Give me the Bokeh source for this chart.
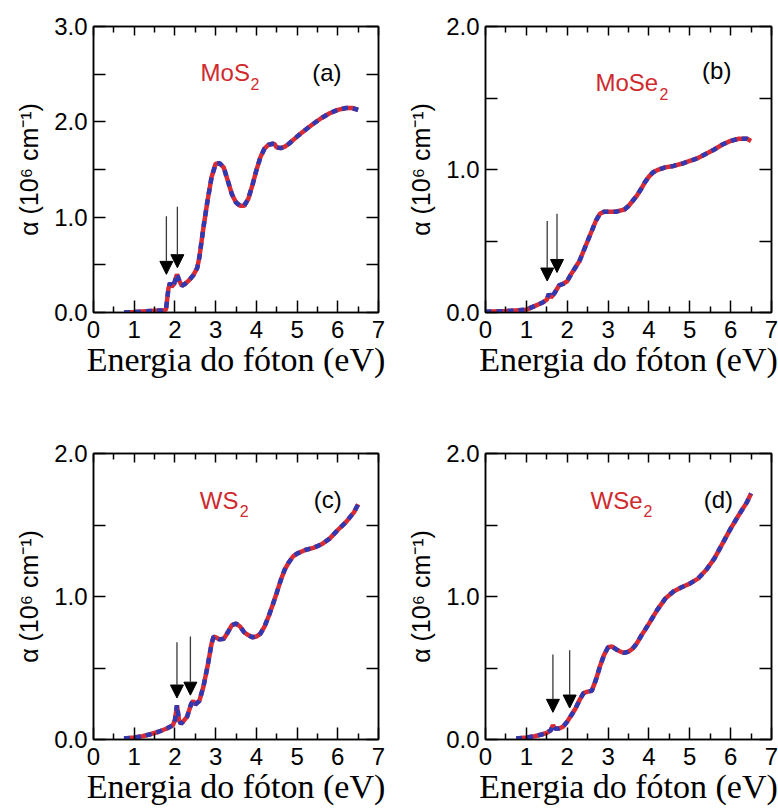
from bokeh.plotting import figure
from bokeh.layouts import gridplot
from bokeh.models import (Range1d, FixedTicker, LinearAxis, NumeralTickFormatter,
                          Label, Arrow, NormalHead)
from bokeh.embed import file_html
from bokeh.resources import INLINE

# ---------------- data ----------------
mos2_energy = [0.75, 1.0, 1.2, 1.4, 1.6, 1.7, 1.78, 1.84, 1.88, 1.92, 1.98, 2.05, 2.11, 2.17,
               2.25, 2.35, 2.45, 2.55, 2.6, 2.7, 2.8, 2.9, 3.0, 3.1, 3.2, 3.3, 3.4, 3.5, 3.6,
               3.7, 3.8, 3.9, 4.0, 4.1, 4.2, 4.3, 4.4, 4.45, 4.5, 4.6, 4.7, 4.8, 5.0, 5.2, 5.4,
               5.6, 5.8, 6.0, 6.2, 6.35, 6.5]
mos2_alpha = [0.0, 0.005, 0.01, 0.015, 0.02, 0.02, 0.03, 0.25, 0.31, 0.27, 0.30, 0.40, 0.33, 0.28,
              0.30, 0.34, 0.39, 0.47, 0.58, 0.89, 1.17, 1.42, 1.56, 1.565, 1.52, 1.38, 1.24, 1.155,
              1.12, 1.12, 1.19, 1.33, 1.49, 1.63, 1.72, 1.76, 1.77, 1.765, 1.73, 1.725, 1.74, 1.77,
              1.845, 1.915, 1.98, 2.04, 2.09, 2.125, 2.145, 2.145, 2.125]

mose2_energy = [0.0, 0.5, 1.0, 1.2, 1.4, 1.5, 1.55, 1.6, 1.7, 1.8, 1.9, 2.0, 2.1, 2.2, 2.3, 2.4,
                2.5, 2.6, 2.7, 2.8, 2.9, 3.0, 3.2, 3.4, 3.5, 3.6, 3.7, 3.8, 3.9, 4.0, 4.1, 4.2,
                4.4, 4.6, 4.8, 5.0, 5.2, 5.4, 5.6, 5.8, 6.0, 6.2, 6.4, 6.5]
mose2_alpha = [0.005, 0.01, 0.02, 0.045, 0.07, 0.09, 0.13, 0.105, 0.14, 0.19, 0.20, 0.22, 0.27,
               0.315, 0.36, 0.43, 0.50, 0.57, 0.64, 0.69, 0.705, 0.705, 0.705, 0.72, 0.745, 0.78,
               0.815, 0.86, 0.91, 0.95, 0.98, 0.995, 1.015, 1.025, 1.04, 1.06, 1.08, 1.11, 1.14,
               1.175, 1.20, 1.215, 1.215, 1.20]

ws2_energy = [0.75, 1.0, 1.2, 1.4, 1.6, 1.8, 1.95, 2.0, 2.05, 2.1, 2.15, 2.2, 2.3, 2.4, 2.45,
              2.5, 2.6, 2.7, 2.8, 2.9, 2.95, 3.0, 3.1, 3.2, 3.3, 3.4, 3.5, 3.6, 3.7, 3.8, 3.9,
              4.0, 4.1, 4.2, 4.3, 4.4, 4.5, 4.6, 4.7, 4.8, 4.9, 5.0, 5.2, 5.4, 5.6, 5.8, 6.0,
              6.2, 6.4, 6.5]
ws2_alpha = [0.007, 0.014, 0.023, 0.037, 0.054, 0.077, 0.10, 0.135, 0.24, 0.135, 0.11, 0.125,
             0.16, 0.25, 0.27, 0.245, 0.27, 0.37, 0.51, 0.67, 0.72, 0.715, 0.70, 0.705, 0.75,
             0.80, 0.81, 0.79, 0.75, 0.73, 0.715, 0.72, 0.74, 0.79, 0.86, 0.94, 1.025, 1.115,
             1.19, 1.24, 1.28, 1.30, 1.325, 1.34, 1.365, 1.405, 1.465, 1.52, 1.59, 1.645]

wse2_energy = [0.75, 1.0, 1.2, 1.4, 1.5, 1.6, 1.65, 1.7, 1.8, 1.9, 2.0, 2.1, 2.2, 2.3, 2.4, 2.5,
               2.6, 2.7, 2.8, 2.9, 3.0, 3.1, 3.2, 3.3, 3.4, 3.5, 3.6, 3.7, 3.8, 3.9, 4.0, 4.2,
               4.4, 4.6, 4.8, 5.0, 5.2, 5.4, 5.6, 5.8, 6.0, 6.2, 6.4, 6.5]
wse2_alpha = [0.007, 0.014, 0.023, 0.037, 0.047, 0.065, 0.10, 0.077, 0.077, 0.09, 0.125, 0.17,
              0.215, 0.275, 0.325, 0.335, 0.34, 0.415, 0.51, 0.59, 0.645, 0.65, 0.63, 0.615,
              0.605, 0.615, 0.635, 0.67, 0.72, 0.765, 0.81, 0.905, 0.985, 1.035, 1.065, 1.09,
              1.125, 1.185, 1.265, 1.37, 1.475, 1.57, 1.66, 1.72]

# exciton arrows (A, B): energy, arrow top, arrow tip
mos2_arrow_x, mos2_arrow_top, mos2_arrow_tip = [1.79, 2.06], [1.01, 1.11], [0.40, 0.47]
mose2_arrow_x, mose2_arrow_top, mose2_arrow_tip = [1.51, 1.75], [0.64, 0.69], [0.22, 0.28]
ws2_arrow_x, ws2_arrow_top, ws2_arrow_tip = [2.05, 2.38], [0.68, 0.72], [0.29, 0.31]
wse2_arrow_x, wse2_arrow_top, wse2_arrow_tip = [1.65, 2.06], [0.595, 0.625], [0.19, 0.22]

x_ticks = [0, 1, 2, 3, 4, 5, 6, 7]
x_minor = [0.5, 1.5, 2.5, 3.5, 4.5, 5.5, 6.5]

RED = "#d92b33"
BLUE = "#3238b0"
LABEL_RED = "#cf2a2e"
SANS = "Liberation Sans"
SERIF = "Liberation Serif"


def style_axis(ax, show_labels):
    ax.axis_line_color = "black"
    ax.axis_line_width = 1.5
    ax.major_tick_line_color = "black"
    ax.minor_tick_line_color = "black"
    ax.major_tick_line_width = 1.5
    ax.minor_tick_line_width = 1.5
    ax.major_tick_out = 0
    ax.minor_tick_out = 0
    if show_labels:
        ax.major_label_text_font = SANS
        ax.major_label_text_font_size = "24px"
        ax.major_label_text_color = "black"
    else:
        ax.major_label_text_font_size = "1px"
        ax.major_label_text_color = None
        ax.major_label_standoff = 0


def make_panel(energy, alpha, ymax, name, sub, tag, name_pos, sub_pos, tag_pos,
               ax_x, ax_top, ax_tip, b_left, b_right, b_top, b_bottom):
    p = figure(width=389, height=406, x_range=Range1d(0, 7), y_range=Range1d(0, ymax),
               output_backend="svg", toolbar_location=None,
               min_border_left=b_left, min_border_right=b_right,
               min_border_top=b_top, min_border_bottom=b_bottom)
    p.xgrid.visible = False
    p.ygrid.visible = False
    p.outline_line_color = "black"
    p.outline_line_width = 1.5
    p.background_fill_color = "white"
    p.border_fill_color = "white"

    y_major = list(range(0, int(ymax) + 1))
    y_minor = [v + 0.5 for v in range(0, int(ymax))]

    xt = FixedTicker(ticks=x_ticks, minor_ticks=x_minor)
    yt = FixedTicker(ticks=y_major, minor_ticks=y_minor)

    xa = p.xaxis[0]
    xa.ticker = xt
    style_axis(xa, True)
    xa.major_tick_in = 12
    xa.minor_tick_in = 6
    xa.major_label_standoff = 8
    xa.axis_label = "Energia do fóton (eV)"
    xa.axis_label_text_font = SERIF
    xa.axis_label_text_font_size = "34px"
    xa.axis_label_text_font_style = "normal"
    xa.axis_label_text_color = "black"
    xa.axis_label_standoff = 0

    ya = p.yaxis[0]
    ya.ticker = yt
    ya.formatter = NumeralTickFormatter(format="0.0")
    style_axis(ya, True)
    ya.major_tick_in = 12
    ya.minor_tick_in = 12
    ya.major_label_standoff = 6
    ya.axis_label = "α (10⁶ cm⁻¹)"
    ya.axis_label_text_font = SANS
    ya.axis_label_text_font_size = "25px"
    ya.axis_label_text_font_style = "normal"
    ya.axis_label_text_color = "black"
    ya.axis_label_standoff = 8

    top = LinearAxis(ticker=xt)
    style_axis(top, False)
    top.major_tick_in = 9
    top.minor_tick_in = 6
    p.add_layout(top, "above")

    right = LinearAxis(ticker=yt)
    style_axis(right, False)
    right.major_tick_in = 12
    right.minor_tick_in = 12
    p.add_layout(right, "right")

    p.line(energy, alpha, line_color=RED, line_width=4.5)
    p.line(energy, alpha, line_color=BLUE, line_width=4.5, line_dash="6 5")

    for x, y0, y1 in zip(ax_x, ax_top, ax_tip):
        p.add_layout(Arrow(x_start=x, y_start=y0, x_end=x, y_end=y1,
                           line_color="#3a3a3a", line_width=1.3,
                           end=NormalHead(size=13, fill_color="black", line_color="black",
                                          line_width=1)))

    p.add_layout(Label(x=name_pos[0], y=name_pos[1], text=name, text_color=LABEL_RED,
                       text_font=SANS, text_font_size="24px", text_baseline="alphabetic"))
    p.add_layout(Label(x=name_pos[0], y=sub_pos[1], x_offset=sub_pos[0], text=sub,
                       text_color=LABEL_RED, text_font=SANS, text_font_size="16px",
                       text_baseline="alphabetic"))
    p.add_layout(Label(x=tag_pos[0], y=tag_pos[1], text=tag, text_color="black",
                       text_font=SANS, text_font_size="24px", text_baseline="alphabetic"))
    return p


# label positions: (x, y) in data units; subscript: (x offset in px from name start, y)
pa = make_panel(mos2_energy, mos2_alpha, 3, "MoS", "2", "(a)",
                (2.63, 2.52), (50, 2.40), (5.37, 2.52),
                mos2_arrow_x, mos2_arrow_top, mos2_arrow_tip, 93, 11, 26, 94)
pb = make_panel(mose2_energy, mose2_alpha, 2, "MoSe", "2", "(b)",
                (2.69, 1.61), (64, 1.53), (5.30, 1.69),
                mose2_arrow_x, mose2_arrow_top, mose2_arrow_tip, 96, 7, 26, 94)
pc = make_panel(ws2_energy, ws2_alpha, 2, "WS", "2", "(c)",
                (2.61, 1.67), (40, 1.60), (5.41, 1.68),
                ws2_arrow_x, ws2_arrow_top, ws2_arrow_tip, 93, 11, 47, 73)
pd = make_panel(wse2_energy, wse2_alpha, 2, "WSe", "2", "(d)",
                (2.57, 1.67), (53, 1.60), (5.34, 1.68),
                wse2_arrow_x, wse2_arrow_top, wse2_arrow_tip, 96, 7, 47, 73)

grid = gridplot([[pa, pb], [pc, pd]], toolbar_location=None)

open("out.html", "w").write(file_html(grid, INLINE))
